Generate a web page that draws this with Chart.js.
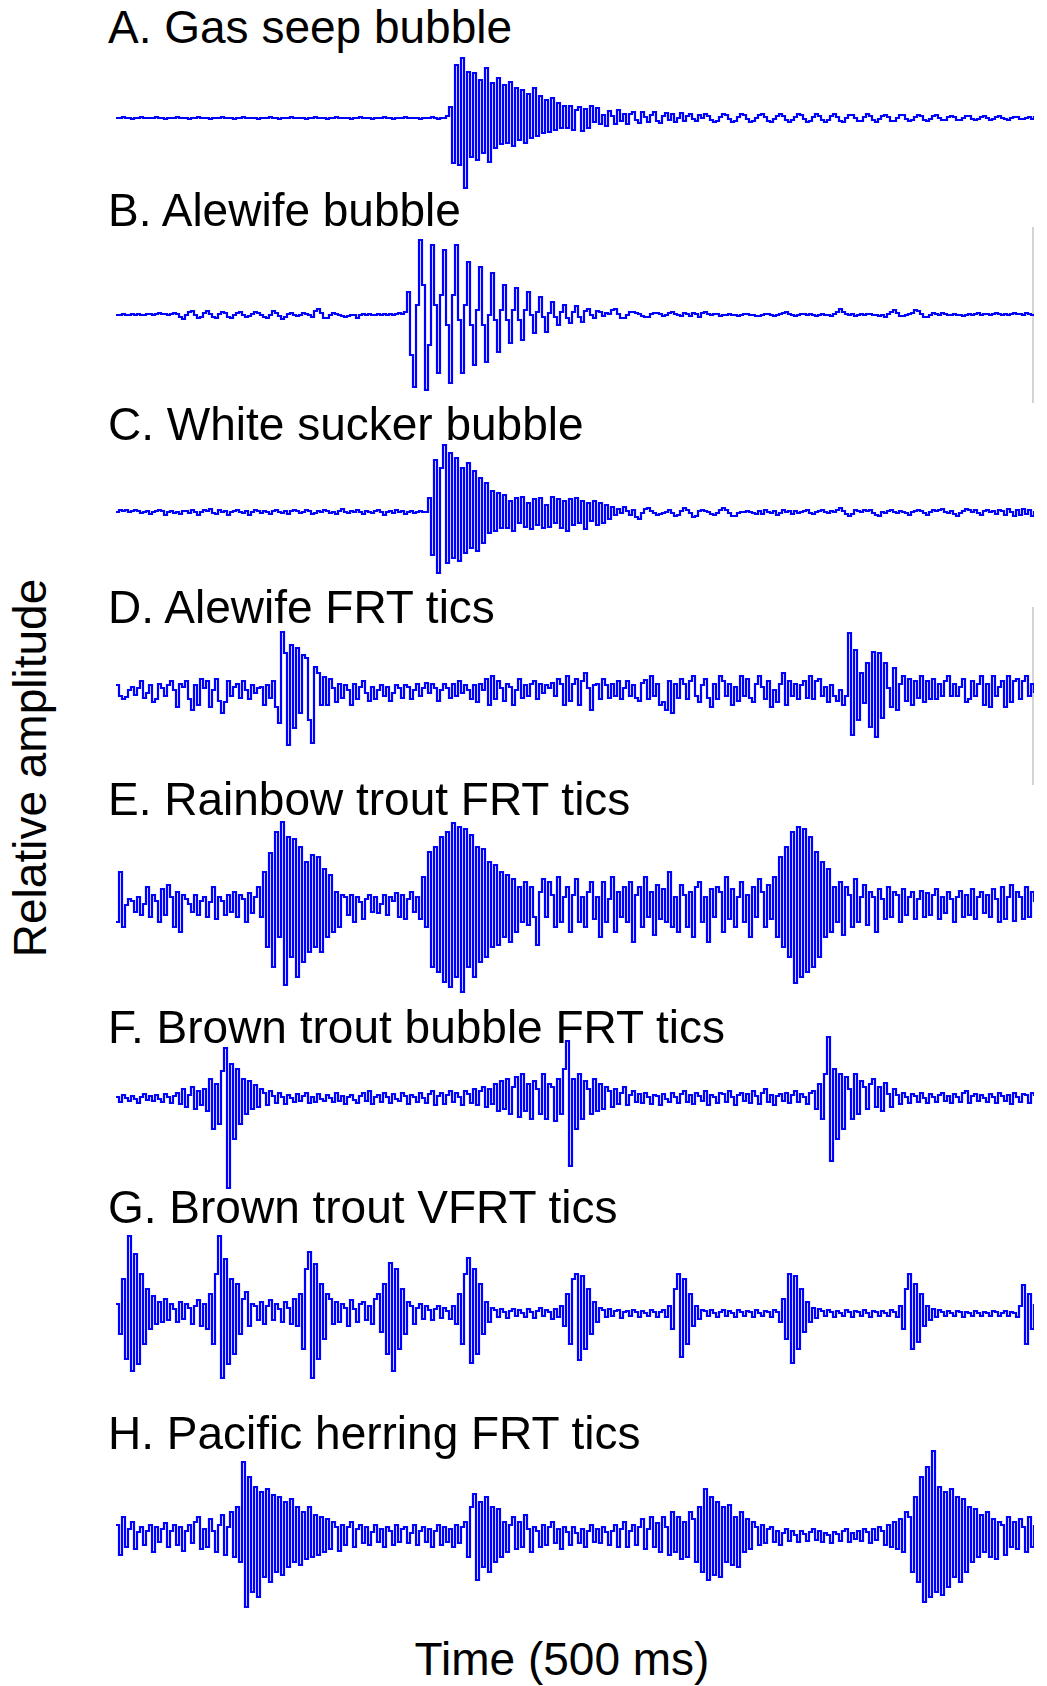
<!DOCTYPE html>
<html>
<head>
<meta charset="utf-8">
<script src="https://cdn.jsdelivr.net/npm/chart.js@4.4.1/dist/chart.umd.min.js"></script>
<style>
  body { margin: 0; background: #fff; width: 1047px; height: 1686px; position: relative; overflow: hidden;
         font-family: "Liberation Sans", Arial, sans-serif; }
  .lbl { position: absolute; left: 108px; font-size: 46px; line-height: 46px; color: #000; white-space: nowrap; }
  canvas { position: absolute; left: 116px; }
  .edge { position: absolute; left: 1032px; width: 2px; background: #d4d4d4; }
  #ylab { position: absolute; left: 30px; top: 768px; font-size: 46px; line-height: 46px; white-space: nowrap;
          transform: translate(-50%, -50%) rotate(-90deg); }
  #xlab { position: absolute; left: 562px; top: 1636px; font-size: 46px; line-height: 46px; white-space: nowrap;
          transform: translateX(-50%); }
</style>
</head>
<body>
<div id="ylab">Relative amplitude</div>
<div id="xlab">Time (500 ms)</div>
<div class="edge" style="top:227px;height:176px"></div>
<div class="edge" style="top:607px;height:178px"></div>
<div id="plots"></div>
<script>
// waveforms, one sample every 3 px of the 500 ms window (307 samples each)
var gasSeep = [
  0,0,1,0,0,-1,0,0,1,0, 0,0,0,1,0,0,-1,0,0,0, 1,0,0,0,-1,0,0,1,0,0, 0,-1,0,0,0,1,0,0,0,-1,
  0,0,1,0,0,0,0,-1,0,0, 0,1,0,0,-1,0,0,0,1,0, 0,0,0,-1,0,0,1,0,0,0, -1,0,0,1,0,0,0,0,-1,0,
  0,1,0,0,0,-1,0,0,0,1, 0,0,-1,0,0,0,1,0,0,0, 0,-1,0,0,0,1,0,-1,0,0, 2,11,-45,53,-47,60,-70,46,-39,45,
  -42,38,-35,50,-44,35,-30,40,-26,33, -25,36,-28,30,-22,28,-25,24,-20,30, -18,22,-15,18,-14,20,-12,15,-10,12,
  -10,12,-12,8,11,-13,9,-10,12,-4, 10,-6,3,-8,7,2,-6,8,-3,4, -6,4,6,-2,-5,6,1,-4,3,6,
  -3,-5,2,5,-2,4,-4,0,5,-3, 2,4,-1,-3,3,0,4,2,-2,-4, -3,1,4,3,-1,-4,-3,1,4,3,
  -1,-4,-3,0,3,4,1,-3,-4,-1, 2,4,2,-2,-4,-2,1,4,3,-1, -4,-3,1,4,2,-2,-4,-2,2,4,
  1,-3,-4,0,3,3,0,-3,-3,1, 4,2,-2,-4,-1,2,3,1,-3,-3, 0,3,3,-1,-3,-2,1,3,2,-2,
  -3,-1,2,3,0,-2,-2,1,2,1, -2,-2,0,2,2,-1,-2,-1,1,2, 0,-2,-1,1,2,0,-1,-2,0,1,
  1,-1,-1,0,1,-1,2
];
var alewifeBubble = [
  0,0,1,0,0,1,0,1,0,0, 1,1,0,1,2,1,1,0,1,2, 1,-2,-4,0,3,4,0,-3,-2,2, 4,1,-2,-3,1,3,2,-2,-3,0,
  2,3,0,-2,-1,1,3,2,0,-2, -3,0,4,2,-1,-4,-2,1,2,0, -1,0,2,1,0,-2,4,6,2,-3, -3,0,2,1,0,-1,-2,-1,0,0,
  -3,0,1,0,1,0,0,1,0,1, 0,1,0,1,2,1,3,23,-40,-72, 10,75,30,-75,-30,70,10,-58,20,65,
  -10,-68,20,70,-5,-58,10,53,-10,-50, 5,48,-10,-47,0,42,-5,-37,5,30, -5,-28,5,27,-5,-25,5,23,0,-18,
  3,18,-2,-17,2,13,-2,-10,3,10, -3,-8,3,9,-2,-7,4,6,0,-3, 4,3,-1,2,1,5,6,1,-3,-3,
  0,3,3,2,1,-1,-2,-2,1,2, 2,1,-1,0,2,3,1,0,-1,2, 1,-1,2,1,-2,2,3,1,0,1,
  1,-1,0,0,1,0,0,-1,0,1, 1,0,0,-1,-1,0,1,1,0,-1, 0,1,2,3,1,0,-1,0,1,1,
  0,1,0,-1,0,1,0,0,-1,1, 3,6,3,1,0,1,-1,0,1,0, 1,1,0,0,-1,0,-2,1,3,5,
  2,-1,-1,0,1,2,5,4,1,-2, -2,0,2,1,0,2,1,0,0,1, 0,0,-1,0,1,0,1,2,0,1,
  1,0,1,2,1,0,1,0,1,2, 1,1,0,2,1,0,-1
];
var whiteSucker = [
  1,3,2,3,1,2,3,2,0,1, 2,-1,1,2,3,2,-2,1,2,0, 1,-1,2,2,0,3,1,-2,1,3, 2,4,0,-1,3,1,2,-2,1,2,
  3,1,0,2,-2,1,3,2,0,2, 1,-1,2,3,1,0,2,-1,2,3, 2,0,1,3,2,-1,0,2,1,3, 2,0,1,-1,2,4,1,0,2,1,
  3,1,-1,2,1,0,2,3,1,-2, 1,2,0,3,1,2,-1,1,2,0, 1,2,1,1,15,-42,53,-60,45,68,
  -50,60,-45,55,-48,45,-40,50,-35,42, -38,35,-30,30,-20,22,-18,20,-15,18, -15,12,-18,15,-10,16,-14,10,-16,14,
  -12,15,-15,8,-14,16,-10,14,-15,12, -18,14,-12,15,-10,12,-16,10,-8,12, -12,10,-10,8,-6,6,-2,4,0,6,
  2,-2,3,-4,-6,0,4,5,2,0, -2,-1,0,1,3,0,-3,-2,2,5, 3,0,-4,-3,2,3,2,1,-1,-2,
  0,3,5,3,0,-3,-3,0,1,1, 2,1,0,-1,2,-1,3,1,0,2, -2,0,3,1,2,-1,2,0,1,2,
  3,0,-1,1,2,3,1,0,2,1, 3,5,2,-1,-3,-1,3,2,1,3, 2,3,0,-2,-3,1,0,2,3,1,
  0,2,1,0,-2,1,2,3,2,0, -2,1,3,2,3,4,1,0,2,-1, -3,0,2,4,3,1,3,0,-2,2,
  3,1,2,-1,3,2,-2,4,1,-3, 3,-2,4,-1,3,-3,2
];
var alewifeTics = [
  8,-3,-6,-4,3,6,-2,5,12,-5, 0,8,-9,-6,9,5,-3,8,12,3, -14,9,6,12,-6,-17,8,-12,14,5, 12,-14,3,14,-8,-20,-9,12,-3,6,
  9,-5,12,3,-6,8,0,5,6,-12, 8,-5,12,-14,-30,61,40,-52,48,-35, 45,-20,38,35,-27,-50,26,20,-12,16, -12,14,5,-9,9,-5,8,3,-12,9,
  -6,6,12,0,-8,6,-6,3,8,-3, 6,-8,0,8,5,-5,8,6,-6,3, 9,-3,5,10,0,9,5,-8,3,9,
  5,-5,9,-3,12,0,8,3,-6,8, -9,9,3,14,-12,17,-6,12,5,-8, 9,6,-12,3,14,-5,8,-3,9,12,
  -6,9,0,8,5,10,-3,14,9,-12, 17,-8,9,14,-12,12,20,5,-17,8, 9,-6,14,8,-5,9,-3,12,-6,5,
  12,-3,8,-5,-8,10,13,-6,17,-3, 9,-12,-9,-17,12,-20,9,-5,14,9, -6,12,17,-3,-9,8,14,-5,-14,9,
  -6,17,12,-3,9,-12,6,-8,17,-3, 14,-5,-9,9,17,6,-6,12,-14,3, -9,9,20,-12,12,-3,9,-6,8,12,
  -5,17,-6,12,14,-3,6,-9,8,-3, -8,3,-12,-3,60,-42,43,-27,20,-10, 30,-34,41,-44,40,-25,30,5,-14,25,
  -17,9,17,-8,14,-12,12,-5,17,-9, 12,-6,14,-6,9,-3,12,17,-3,9, -3,6,14,-9,-6,12,-3,9,17,-12,
  9,-14,17,-3,6,12,-14,17,-9,12, 14,-6,12,17,-3,9,0
];
var rainbowTics = [
  -15,35,-20,2,8,6,-5,10,-8,3, 20,-10,12,6,-15,18,-8,22,10,-20, 15,-25,12,8,3,-5,12,-8,6,10, -10,5,20,-12,10,6,-8,12,-5,15,
  -10,12,8,-15,14,-6,10,20,-10,35, -40,54,-60,75,-30,85,-78,70,-50,68, -70,60,-55,45,-45,52,-40,50,-45,38,
  -30,32,-25,15,-20,12,10,-8,12,-15, 10,5,-12,8,12,-5,10,-6,3,12, -8,10,6,14,-10,12,-12,8,15,-5,
  10,-12,30,-20,55,-60,60,-65,70,-75, 75,-80,84,-70,80,-85,78,-60,72,-70, 60,-55,58,-50,45,-40,42,-38,35,-30,
  32,-35,28,-25,20,-15,25,-18,20,-10, -38,15,28,-10,25,12,-20,30,-15,10, 20,-25,12,28,-15,10,-20,15,25,-12,
  10,-30,25,-15,8,30,-25,15,-10,20, -15,25,-35,12,20,-20,30,-10,15,-28, 22,-12,18,-15,35,-20,10,-25,22,12,
  -20,15,-30,20,25,-15,10,-35,18,-10, 20,15,-25,30,-12,18,-20,10,25,-15, 12,-30,20,-10,28,15,-20,22,-12,30,
  -30,50,-40,60,-50,75,-76,80,-70,78, -65,70,-60,55,-50,45,-30,38,-25,20, -15,25,-28,20,12,-20,28,-15,10,22,
  -18,15,10,-25,18,8,-12,20,-10,15, 12,-15,18,-8,10,15,-12,8,16,-10, 14,-8,12,18,-12,10,-6,15,8,-15,
  10,16,-10,12,-8,18,-12,10,15,-6, 12,-10,18,8,-15,20,-12,10,22,-14, 15,10,-12,20,-10,15,5
];
var brownBubbleTics = [
  2,-3,4,1,-2,3,0,-4,2,5, -1,3,-2,4,0,-3,5,2,-4,3, 6,-5,10,-8,4,12,-10,8,-6,10, -12,20,-30,15,-25,28,51,-89,35,-40,
  30,-25,20,-15,18,-10,14,-8,10,6, -6,8,3,-4,6,2,-5,4,1,-3, 5,-2,3,6,-4,2,-3,5,0,-2, 4,1,-3,6,-2,3,-5,2,4,-1,
  -4,3,6,-2,8,-5,2,4,-3,6, 2,-4,5,0,-2,6,3,-5,4,2, -3,6,1,-4,5,8,-6,3,6,-5,
  4,8,-3,6,2,-6,8,5,-4,10, -6,8,12,-8,10,-5,15,-12,18,-10, 20,-15,12,22,-18,25,-12,15,-20,18,
  10,-15,25,-20,15,12,-22,20,-15,30, 58,-67,20,-30,25,-20,18,10,-15,20, -12,15,-10,12,8,-8,10,-5,6,12,
  -6,4,8,-3,5,-4,6,2,-5,4, 3,-6,5,0,-3,6,2,-4,5,8, -3,4,-5,6,3,-2,8,-6,4,2,
  -4,6,5,-3,8,2,-6,4,6,-2, 5,-4,8,3,-5,6,10,-3,4,-6, 3,5,-2,6,-4,4,8,-3,5,2,
  -5,6,8,-10,15,-20,25,62,-62,30, -40,25,-30,22,10,-20,25,-15,18,12, -10,15,20,-8,12,-12,16,5,-8,10,
  4,-5,6,2,-4,5,3,-3,6,1, -4,5,2,-3,4,6,-2,3,-4,5, 2,-3,6,8,-4,3,5,-2,4,1,
  -3,5,2,-4,6,3,-2,4,-5,6, 2,-3,5,4,-4,6,3
];
var brownVfrtTics = [
  10,-20,35,-45,78,-57,60,-50,40,-30, 25,-15,18,-10,12,-8,15,-6,10,5, -8,12,-5,10,6,-10,8,14,-12,10, -15,20,-30,40,78,-64,55,-50,35,-40,
  30,-20,15,22,-12,10,8,-6,12,-10, 8,14,-6,10,5,-8,12,6,-10,15, -12,20,-35,45,62,-64,50,-45,30,-25, 20,15,-10,12,-8,10,6,-12,14,5,
  -8,10,12,-6,8,-10,15,20,-18,30, -40,51,-57,45,-35,25,-20,12,8,-10, 6,10,-5,8,4,-6,5,8,-4,6,
  3,-5,8,-10,20,-30,40,56,-49,45, -40,30,-20,12,-8,6,4,-3,5,2, -4,3,5,-2,4,1,-3,5,2,-4,
  3,6,-2,4,2,-5,5,-3,8,-12, 20,-30,35,40,-46,38,-35,25,-20,12, -8,6,4,-3,5,-2,3,4,-4,2,
  3,-2,4,2,-3,3,1,-2,4,2, -3,2,4,-3,8,-15,25,40,-43,35, -30,20,-12,8,-5,4,3,-2,4,1,
  -3,2,4,-2,3,1,-3,4,2,-2, 3,2,-3,4,1,-2,3,2,-3,4, 2,-8,15,-25,40,-49,38,-35,25,-18,
  12,-8,6,-4,5,3,-2,4,2,-3, 3,1,-2,4,2,-3,3,2,-2,4, 1,-3,3,2,-2,3,1,-2,4,2,
  -3,8,-15,25,40,-35,30,-28,20,-12, 8,-6,5,-3,4,2,-2,3,1,-2, 3,2,-3,2,1,-2,3,1,-2,2,
  1,-2,3,2,-2,1,3,-2,2,1, -3,8,29,-30,20,-15,10
];
var herringTics = [
  12,-18,20,-10,8,15,-12,5,10,-8, 6,12,-15,10,-5,8,14,-10,6,12, -8,10,-14,6,12,-6,15,20,-12,8, -10,18,6,-15,12,22,-18,10,25,-20,
  30,-25,75,-70,60,-55,50,-60,45,-40, 48,-45,42,-35,40,-38,35,-30,38,-25, 30,-28,25,-22,30,-20,22,-18,20,-15,
  18,-12,15,10,-14,12,-8,10,15,-10, 8,12,-6,10,-8,5,12,-5,8,-10, 10,6,-8,12,-5,8,10,-6,4,12,
  -8,6,10,-5,8,-10,6,12,-8,10, -5,8,-10,12,-6,10,15,-20,30,43, -43,35,-30,40,-35,30,-25,28,-20,15,
  -15,12,20,-12,15,-10,22,8,-15,10, 6,-10,12,-8,10,15,-6,8,-12,10, 5,-8,10,4,-6,8,-10,6,12,-5,
  8,-6,10,5,-8,6,12,-10,8,15, -10,6,12,-8,10,18,-12,8,20,-10, 14,-15,20,10,-18,25,-15,20,-22,15,
  -20,25,18,-25,30,-35,48,-43,40,-38, 35,-40,30,-25,32,-28,20,-30,25,-15, 18,-12,15,10,-8,12,-6,8,10,-5,
  6,-8,4,8,-4,6,2,-5,6,3, -4,5,8,-3,6,-5,4,2,-6,5, 3,-4,6,8,-5,4,-2,6,-4,8,
  5,-6,8,-3,10,6,-8,12,-10,15, -12,18,-15,25,20,-35,40,-45,60,-65, 70,-60,86,-55,50,-58,45,-50,48,-40,
  40,-45,38,-35,30,-25,28,-20,22,-15, 25,-20,18,-22,15,12,-18,20,-10,15, -12,18,10,-15,20,-10,12
];

var titles = ['A. Gas seep bubble', 'B. Alewife bubble', 'C. White sucker bubble', 'D. Alewife FRT tics',
  'E. Rainbow trout FRT tics', 'F. Brown trout bubble FRT tics', 'G. Brown trout VFRT tics', 'H. Pacific herring FRT tics'];
var series = [gasSeep, alewifeBubble, whiteSucker, alewifeTics, rainbowTics, brownBubbleTics, brownVfrtTics, herringTics];

// zero line of each trace and baseline of its caption, in page px
var zeroY = [118, 315, 513, 693, 907, 1099, 1314, 1537];
var captionY = [43, 226, 440, 623, 815, 1043, 1223, 1449];

var plots = document.getElementById('plots');
var W = 918, H = 200;

for (var k = 0; k < series.length; k++) {
  var lbl = document.createElement('div');
  lbl.className = 'lbl';
  lbl.style.top = (captionY[k] - 39) + 'px';
  lbl.textContent = titles[k];
  plots.appendChild(lbl);

  var cv = document.createElement('canvas');
  cv.width = W;
  cv.height = H;
  cv.style.top = (zeroY[k] - H / 2) + 'px';
  plots.appendChild(cv);

  var vals = series[k];
  var pts = vals.map(function(v, i) { return { x: i, y: v }; });

  // sample-and-hold trace
  new Chart(cv, {
    type: 'line',
    data: {
      datasets: [{
        data: pts,
        borderColor: '#0000ff',
        borderWidth: 2.2,
        pointRadius: 0,
        stepped: true,
        fill: false
      }]
    },
    options: {
      responsive: false,
      animation: false,
      events: [],
      layout: { padding: 0 },
      plugins: { legend: { display: false }, tooltip: { enabled: false } },
      scales: {
        x: { type: 'linear', display: false, min: 0, max: vals.length - 1 },
        y: { display: false, min: -100, max: 100 }
      }
    }
  });
}
</script>
</body>
</html>
